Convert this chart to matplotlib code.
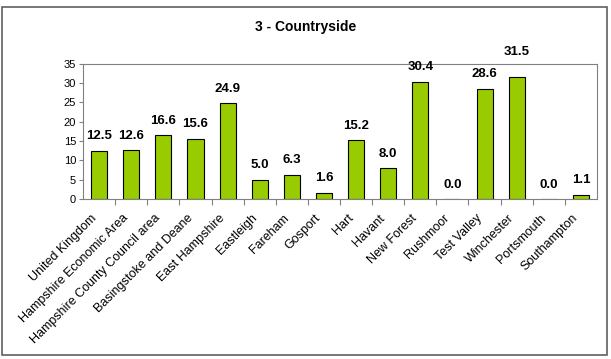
import matplotlib.pyplot as plt
from matplotlib.patches import Rectangle
from matplotlib.transforms import ScaledTranslation

plt.rcParams['font.family'] = ['Liberation Sans', 'DejaVu Sans']

areas = ['United Kingdom', 'Hampshire Economic Area', 'Hampshire County Council area',
         'Basingstoke and Deane', 'East Hampshire', 'Eastleigh', 'Fareham', 'Gosport',
         'Hart', 'Havant', 'New Forest', 'Rushmoor', 'Test Valley', 'Winchester',
         'Portsmouth', 'Southampton']
values = [12.5, 12.6, 16.6, 15.6, 24.9, 5.0, 6.3, 1.6, 15.2, 8.0, 30.4, 0.0, 28.6, 31.5, 0.0, 1.1]
yticks = [0, 5, 10, 15, 20, 25, 30, 35]

fig = plt.figure(figsize=(6.11, 3.59), dpi=100)
ax = fig.add_axes([0.136, 0.446, 0.841, 0.376])

x = range(len(areas))
ax.bar(x, values, width=0.5, color='#99cc00', edgecolor='black', linewidth=0.8)
for i, v in zip(x, values):
    # the Winchester label sits higher in the original, above the plot frame
    off = 14 if areas[i] == 'Winchester' else 6
    ax.annotate('%.1f' % v, (i, v), xytext=(0, off), textcoords='offset points',
                ha='center', va='bottom', fontsize=9.5, fontweight='bold',
                annotation_clip=False)

ax.set_xlim(-0.5, len(areas) - 0.5)
ax.set_ylim(0, 35)
ax.set_yticks(yticks)
ax.tick_params(axis='y', labelsize=8, length=3, color='#808080', pad=2)
ax.set_xticks([i + 0.5 for i in x][:-1], minor=False)
ax.set_xticks(list(x), minor=True)
ax.set_xticklabels([''] * (len(areas) - 1))
ax.set_xticklabels(areas, minor=True, rotation=45, ha='right', rotation_mode='anchor', fontsize=9)
ax.tick_params(axis='x', which='major', length=4, color='#808080')
ax.tick_params(axis='x', which='minor', length=0, pad=9.5)
shift = ScaledTranslation(-6.5 / 72, 0, fig.dpi_scale_trans)
for lbl in ax.get_xticklabels(minor=True):
    lbl.set_transform(lbl.get_transform() + shift)
for s in ax.spines.values():
    s.set_color('#808080')
    s.set_linewidth(0.8)

fig.text(0.5, 0.925, '3 - Countryside', ha='center', va='center', fontsize=10, fontweight='bold')

fig.patches.append(Rectangle((0.004, 0.012), 0.99, 0.968, transform=fig.transFigure,
                             fill=False, edgecolor='#606060', linewidth=1.2))

fig.savefig('out.png', dpi=100)
